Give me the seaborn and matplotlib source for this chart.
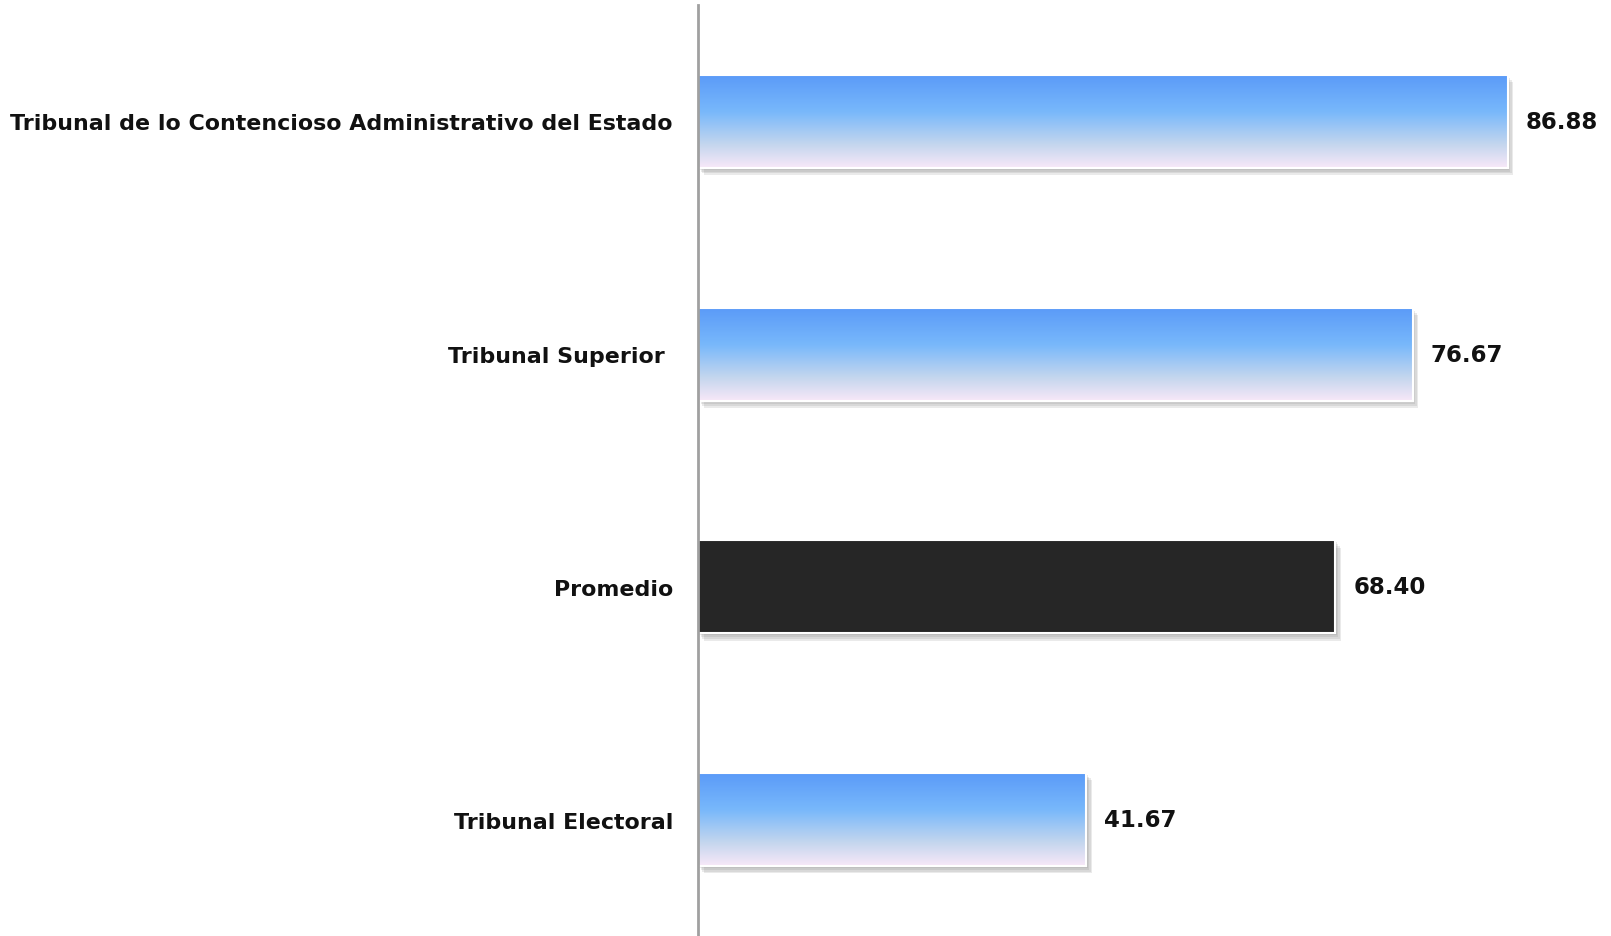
import numpy as np
import matplotlib
matplotlib.use("Agg")
import matplotlib.pyplot as plt
import matplotlib.patheffects as pe
from matplotlib.colors import LinearSegmentedColormap
import seaborn as sns

# data
categories = ['Tribunal de lo Contencioso Administrativo del Estado',
              'Tribunal Superior ', 'Promedio', 'Tribunal Electoral']
values = [86.88, 76.67, 68.40, 41.67]

sns.set_theme(style="white")
plt.rcParams['font.family'] = ['DejaVu Sans']

fig = plt.figure(figsize=(16.11, 9.37), dpi=100)
ax = fig.add_axes([698 / 1611, 0, 1 - 698 / 1611, 931 / 937])

bar_colors = ['#5b9bf8' if c != 'Promedio' else '#262626' for c in categories]
sns.barplot(x=values, y=categories, hue=categories, palette=bar_colors, orient='h',
            width=0.4, legend=False, ax=ax, edgecolor='white', linewidth=1.5)

# blue-to-pink gradient for the tribunal bars
grad_cmap = LinearSegmentedColormap.from_list(
    'barfade', [(0, '#5a9af8'), (0.4, '#78b8fb'), (0.75, '#c4d6ee'), (1, '#f8e8f8')])
grad = np.linspace(0, 1, 256).reshape(-1, 1)

# soft drop shadow, built from a few faint offset copies
shadow = [pe.SimplePatchShadow(offset=(d, -d * 1.3), shadow_rgbFace='#707070', alpha=0.14)
          for d in (1, 2, 3, 4)] + [pe.Normal()]
for patch, cat in zip(ax.patches, categories):
    patch.set_path_effects(shadow)
    if cat == 'Promedio':
        continue
    x0, y0 = patch.get_x(), patch.get_y()
    w, h = patch.get_width(), patch.get_height()
    im = ax.imshow(grad, cmap=grad_cmap, aspect='auto', extent=(x0, x0 + w, y0 + h, y0),
                   zorder=patch.get_zorder() + 0.1)
    im.set_clip_path(patch)
    # white edge on top of the gradient
    ax.add_patch(plt.Rectangle((x0, y0), w, h, fill=False, edgecolor='white',
                               linewidth=1.5, zorder=patch.get_zorder() + 0.2))

for i, v in enumerate(values):
    ax.annotate(f'{v:.2f}', xy=(v, i), xytext=(13, 0), textcoords='offset points',
                va='center', ha='left', fontsize=16.5, fontweight='bold', color='#111111')

ax.set_xlim(0, 913 / 9.32)
ax.set_ylim(3.5, -0.5)
ax.set_xticks([])
ax.set_xlabel('')
ax.set_ylabel('')
for s in ['top', 'right', 'bottom']:
    ax.spines[s].set_visible(False)
ax.spines['left'].set_color('#a0a0a0')
ax.spines['left'].set_linewidth(2)
ax.tick_params(axis='y', length=0, pad=18)
for lbl in ax.get_yticklabels():
    lbl.set_fontsize(15.9)
    lbl.set_fontweight('bold')
    lbl.set_color('#111111')

fig.savefig('out.png', dpi=100, facecolor='white')
